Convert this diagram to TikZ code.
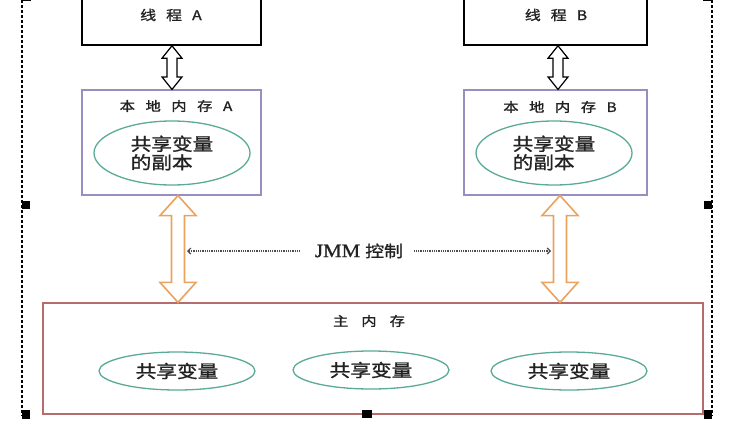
\documentclass[tikz,border=0pt]{standalone}
\usepackage{fontspec}
\usetikzlibrary{arrows.meta,shapes.geometric,calc}
\newfontfamily\cjk[FakeStretch=1.18,FakeBold=1.2]{Noto Sans CJK SC}
\newfontfamily\jmmfont[FakeStretch=1.1,FakeBold=1]{Liberation Serif}
\definecolor{purpleb}{HTML}{9A8EC0}
\definecolor{tealb}{HTML}{5BAA98}
\definecolor{redb}{HTML}{B56C6C}
\definecolor{orangeb}{HTML}{EBA25E}
\definecolor{txt}{HTML}{222222}
\newcommand{\gp}[1]{\hspace{#1}}
% vertical double arrow: style, top point, bottom point, half head width, half shaft width, head length
\newcommand{\dblarrow}[6]{%
  \path[#1] let \p1=(#2), \p2=(#3) in
   (\x1,\y1) -- (\x1+#4,\y1-#6) -- (\x1+#5,\y1-#6) -- (\x1+#5,\y2+#6) -- (\x1+#4,\y2+#6)
   -- (\x1,\y2) -- (\x1-#4,\y2+#6) -- (\x1-#5,\y2+#6) -- (\x1-#5,\y1-#6) -- (\x1-#4,\y1-#6) -- cycle;}
\begin{document}
\begin{tikzpicture}[x=1pt,y=-1pt,
  threadbox/.style={draw=black,line width=1.5pt,fill=white,minimum height=60pt,inner sep=0pt},
  localbox/.style={draw=purpleb,line width=1.1pt,minimum height=105pt,inner sep=0pt},
  mainbox/.style={draw=redb,line width=1.2pt,minimum width=660pt,minimum height=111pt,inner sep=0pt},
  varell/.style={ellipse,draw=tealb,line width=1.3pt,inner sep=0pt,text=txt,
                 font=\cjk\fontsize{17.5}{18.5}\selectfont},
  title/.style={inner sep=0pt,text=txt},
  hollow/.style={draw=black,line width=1.2pt,fill=white,line join=miter},
  fat/.style={draw=orangeb,line width=1.6pt,fill=white},
  ctrl/.style={draw=black!70,line width=1.2pt,dash pattern=on 1pt off 0.8pt,
               -{Straight Barb[length=3pt,width=6pt]}},
  handle/.style={fill=black,draw=none},
  frameline/.style={draw=black,line width=1.2pt,dash pattern=on 3pt off 2pt}
]
\clip (0,0) rectangle (741,423);
\fill[white] (0,0) rectangle (741,423);

% outer dashed frame
\draw[frameline] (22,-10) -- (22,416);
\draw[frameline] (712,-10) -- (712,416);

% threads
\node[threadbox,minimum width=179pt] (ta) at (171.5,15) {};
\node[title,font=\cjk\fontsize{13.5}{13.5}\selectfont] (tat) at (171,15) {线\gp{10pt}程\gp{10pt}A};
\node[threadbox,minimum width=183pt] (tb) at (555.5,15) {};
\node[title,font=\cjk\fontsize{13.5}{13.5}\selectfont] (tbt) at (556,15) {线\gp{10pt}程\gp{10pt}B};

% local memories
\node[localbox,minimum width=179pt] (la) at (171.5,142.5) {};
\node[title,font=\cjk\fontsize{13}{13}\selectfont] (lat) at (176,106)
  {本\gp{10.5pt}地\gp{10.5pt}内\gp{10.5pt}存\gp{10.5pt}A};
\node[varell,minimum width=156pt,minimum height=64pt,align=left] (ea) at (172,153) {共享变量\\的副本};

\node[localbox,minimum width=183pt] (lb) at (555.5,142.5) {};
\node[title,font=\cjk\fontsize{13}{13}\selectfont] (lbt) at (560,107)
  {本\gp{10.5pt}地\gp{10.5pt}内\gp{10.5pt}存\gp{10.5pt}B};
\node[varell,minimum width=156pt,minimum height=64pt,align=left] (eb) at (554,153) {共享变量\\的副本};

% main memory
\node[mainbox] (mm) at (373,358.5) {};
\node[title,font=\cjk\fontsize{13}{13}\selectfont] (mmt) at (369,321) {主\gp{13pt}内\gp{13pt}存};
\node[varell,minimum width=156pt,minimum height=38pt] (m1) at (177,371) {共享变量};
\node[varell,minimum width=156pt,minimum height=38pt] (m2) at (371,370) {共享变量};
\node[varell,minimum width=156pt,minimum height=38pt] (m3) at (569,371) {共享变量};

% thread <-> local arrows
\dblarrow{hollow}{[xshift=0.5pt]ta.south}{[xshift=0.5pt]la.north}{10pt}{5pt}{12.5pt}
\dblarrow{hollow}{[xshift=2.5pt]tb.south}{[xshift=2.5pt]lb.north}{10pt}{5pt}{12.5pt}

% local <-> main arrows
\dblarrow{fat}{[xshift=6.5pt]la.south}{[xshift=6.5pt]mm.north}{18pt}{6.5pt}{20pt}
\dblarrow{fat}{[xshift=4.5pt]lb.south}{[xshift=4.5pt]mm.north}{18pt}{6.5pt}{20pt}

% JMM control
\node[title] (jmm) at (359,251)
  {{\jmmfont\fontsize{19}{19}\selectfont JMM}\hspace{5pt}{\cjk\fontsize{16}{16}\selectfont 控制}};
\coordinate (jl) at (187,251);
\coordinate (jr) at (551,251);
\draw[ctrl] ([xshift=-15pt]jmm.west) -- (jl);
\draw[ctrl] ([xshift=11pt]jmm.east) -- (jr);

% selection handles
\fill[handle] (22,201) rectangle (30,209);
\fill[handle] (704,201) rectangle (712,209);
\fill[handle] (22,410) rectangle (30,419);
\fill[handle] (704,410) rectangle (712,419);
\fill[handle] (362,410) rectangle (372,418);
\fill[handle] (22,-8) rectangle (31,1);
\fill[handle] (703,-8) rectangle (712,1);
\end{tikzpicture}
\end{document}
